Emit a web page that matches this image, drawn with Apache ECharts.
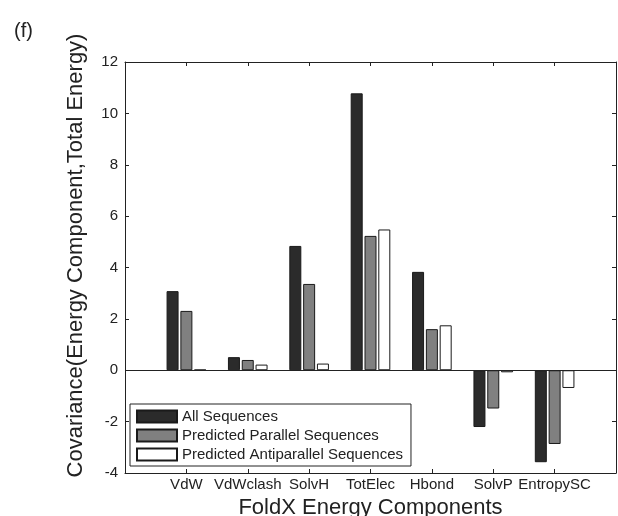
<!DOCTYPE html>
<html>
<head>
<meta charset="utf-8">
<script src="https://cdn.jsdelivr.net/npm/echarts@6.0.0/dist/echarts.min.js"></script>
<style>
	html, body { margin: 0; padding: 0; background: #fff; }
	#chart { width: 618px; height: 516px; }
</style>
</head>
<body>
<div id="chart"></div>
<script>
// blank slots at both ends keep the half-band margins seen in the figure
const components = ['', 'VdW', 'VdWclash', 'SolvH', 'TotElec', 'Hbond', 'SolvP', 'EntropySC', '']
const allSeq = [null, 3.08, 0.51, 4.84, 10.78, 3.83, -2.21, -3.58, null]
const parallelSeq = [null, 2.31, 0.40, 3.36, 5.23, 1.60, -1.49, -2.87, null]
const antiparallelSeq = [null, 0.02, 0.22, 0.26, 5.48, 1.75, -0.08, -0.69, null]
const yTicks = [-4, -2, 0, 2, 4, 6, 8, 10, 12]

const FONT = 'Liberation Sans, Arial, sans-serif'
const INK = '#222'

const chart = echarts.init(document.getElementById('chart'), null, {renderer: 'canvas'})

const innerTick = {show: true, inside: true, length: 4, lineStyle: {color: INK}, interval: (i) => i > 0 && i < components.length - 1}
const yInnerTick = {show: true, inside: true, length: 4, lineStyle: {color: INK}}

const makeBar = (name, data, color) => ({
	name: name,
	type: 'bar',
	data: data,
	barWidth: 12,
	barGap: '15%',
	itemStyle: {color: color, borderColor: '#1a1a1a', borderWidth: 1},
	emphasis: {disabled: true}
})

const series = [
	makeBar('All Sequences', allSeq, '#2b2b2b'),
	makeBar('Predicted Parallel Sequences', parallelSeq, '#808080'),
	makeBar('Predicted Antiparallel Sequences', antiparallelSeq, '#ffffff')
]
// zero baseline across the plot
series[0].markLine = {
	silent: true,
	symbol: 'none',
	label: {show: false},
	lineStyle: {color: INK, type: 'solid', width: 1},
	data: [{yAxis: 0}]
}

chart.setOption({
	animation: false,
	title: {
		text: '(f)',
		left: 9,
		top: 16,
		textStyle: {fontFamily: FONT, fontSize: 20, fontWeight: 'normal', color: INK}
	},
	grid: {left: 125, right: 2, top: 62, bottom: 43, containLabel: false, outerBoundsMode: 'none'},
	legend: {
		orient: 'vertical',
		left: 130,
		top: 404,
		itemWidth: 40,
		itemHeight: 12,
		itemGap: 4,
		padding: [5, 8, 4, 6],
		borderColor: INK,
		borderWidth: 1,
		backgroundColor: '#fff',
		icon: 'rect',
		textStyle: {fontFamily: FONT, fontSize: 15, color: INK},
		data: series.map(s => s.name)
	},
	xAxis: [
		{
			type: 'category',
			data: components,
			boundaryGap: false,
			position: 'bottom',
			name: 'FoldX Energy Components',
			nameLocation: 'middle',
			nameGap: 17,
			nameTextStyle: {fontFamily: FONT, fontSize: 22, color: INK},
			axisLine: {onZero: false, lineStyle: {color: INK}},
			axisTick: innerTick,
			axisLabel: {fontFamily: FONT, fontSize: 15, color: INK, margin: 4, interval: 0},
			splitLine: {show: false}
		},
		{
			type: 'category',
			data: components,
			boundaryGap: false,
			position: 'top',
			axisLine: {onZero: false, lineStyle: {color: INK}},
			axisTick: innerTick,
			axisLabel: {show: false},
			splitLine: {show: false}
		}
	],
	yAxis: [
		{
			type: 'value',
			min: yTicks[0],
			max: yTicks[yTicks.length - 1],
			interval: 2,
			name: 'Covariance(Energy Component,Total Energy)',
			nameLocation: 'middle',
			nameGap: 38,
			nameTextStyle: {fontFamily: FONT, fontSize: 22, color: INK, padding: [0, 0, 0, 24]},
			axisLine: {show: true, lineStyle: {color: INK}},
			axisTick: yInnerTick,
			axisLabel: {fontFamily: FONT, fontSize: 15, color: INK, margin: 7},
			splitLine: {show: false}
		},
		{
			type: 'value',
			min: yTicks[0],
			max: yTicks[yTicks.length - 1],
			interval: 2,
			position: 'right',
			axisLine: {show: true, lineStyle: {color: INK}},
			axisTick: yInnerTick,
			axisLabel: {show: false},
			splitLine: {show: false}
		}
	],
	series: series
})
</script>
</body>
</html>
